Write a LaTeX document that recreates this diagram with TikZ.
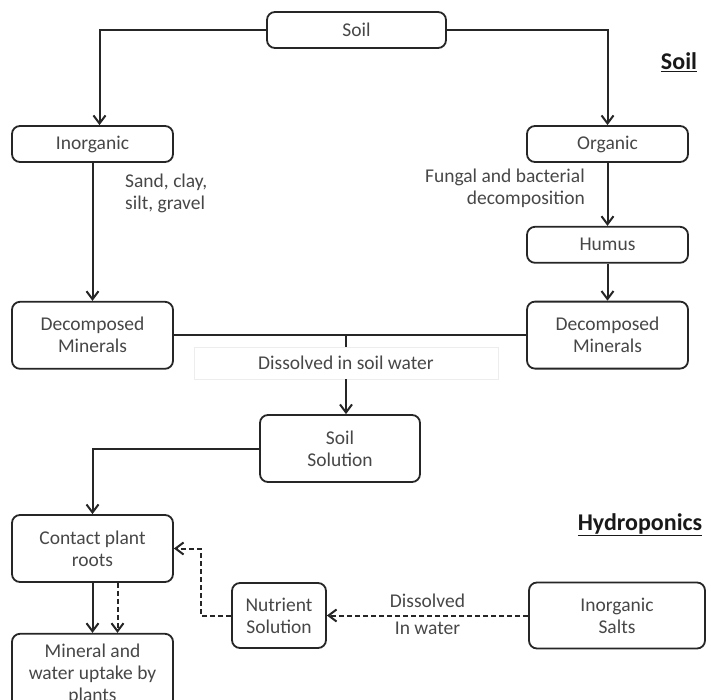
\documentclass[tikz,border=0pt]{standalone}
\usepackage{fontspec}
\setmainfont{Carlito}
\usetikzlibrary{positioning, arrows.meta}

\begin{document}
\begin{tikzpicture}[
  x=1pt, y=-1pt,
  box/.style={draw=black!85, rounded corners=8pt, line width=1.8pt, fill=white,
              align=center, text=black!72, inner sep=2pt,
              font=\fontsize{19.5}{22}\selectfont},
  sbox/.style={box, minimum width=161pt, minimum height=36pt},
  tbox/.style={box, minimum width=161pt, minimum height=67pt},
  ln/.style={line width=2pt, color=black!85},
  arr/.style={ln, -{Straight Barb[length=8pt, width=12pt]}},
  darr/.style={arr, dash pattern=on 5pt off 3pt},
  txt/.style={text=black!72, inner sep=1pt, font=\fontsize{19.5}{22}\selectfont},
  hd/.style={text=black!90, inner sep=0pt, font=\fontsize{24}{28}\selectfont\bfseries},
]
\useasboundingbox (0,0) rectangle (711,700);

% s1: Soil (top)
\node[box, minimum width=179pt, minimum height=36pt] (s1) at (356.5,30) {Soil};

% s2 / s3: Inorganic and Organic
\node[sbox] (s2) at (92.5,144) {Inorganic};
\node[sbox] (s3) at (607.5,144) {Organic};

% s4: Humus
\node[sbox, below=63pt of s3] (s4) {Humus};

% s5 / s6: Decomposed Minerals (both sides)
\node[tbox, below=138pt of s2] (s5) {Decomposed\\Minerals};
\node[tbox, below=37pt of s4] (s6) {Decomposed\\Minerals};

% s7: label box under the joining line
\node[txt, draw=black!7, fill=white, minimum width=304pt, minimum height=32pt] (s7)
  at (346,363) {Dissolved in soil water};

% s8: Soil Solution
\node[box, minimum width=160pt, minimum height=67pt] (s8) at (340,448.5) {Soil\\Solution};

% h1 / h2: plant side
\node[tbox] (h1) at (92.5,548.5) {Contact plant\\roots};
\node[box, minimum width=161pt, minimum height=80pt, below=50pt of h1] (h2)
  {Mineral and\\water uptake by\\plants};

% h3 / h4: hydroponics side
\node[box, minimum width=94pt, minimum height=65pt] (h3) at (279,615.5) {Nutrient\\Solution};
\node[box, minimum width=176pt, minimum height=66pt] (h4) at (617,615.5) {Inorganic\\Salts};

% Headings
\node[hd, anchor=base] (t1) at (679,70) {\underline{Soil}};
\node[hd, anchor=base] (t2) at (640,530) {\underline{Hydroponics}};

% Side notes
\node[txt, align=left, anchor=west] (n1) at (124,193) {Sand, clay,\\silt, gravel};
\node[txt, align=right, anchor=east] (n2) at (586,188) {Fungal and bacterial\\decomposition};

% Soil flow
\draw[arr] (s1.west) -| ([xshift=7pt]s2.north);
\draw[arr] (s1.east) -| (s3.north);
\draw[arr] (s2) -- (s5);
\draw[arr] (s3) -- (s4);
\draw[arr] (s4) -- (s6);
\draw[ln] (s5.east) -- (s5.east -| s6.west);
\draw[ln] (s7.north |- s5.east) -- (s7.north);
\draw[arr] (s7.south) -- (s7.south |- s8.north);
\draw[arr] (s8.west) -| (h1.north);

% Uptake
\draw[arr] (h1) -- (h2);
\draw[darr] ([xshift=25pt]h1.south) -- ([xshift=25pt]h2.north);

% Hydroponics flow (dashed)
\draw[darr] (h4.west) -- node[txt, above=6pt] {Dissolved}
  node[txt, below=4pt] {In water} (h3.east);
\draw[darr] (h3.west) -- ++(-30pt,0) |- (h1.east);

\end{tikzpicture}
\end{document}
